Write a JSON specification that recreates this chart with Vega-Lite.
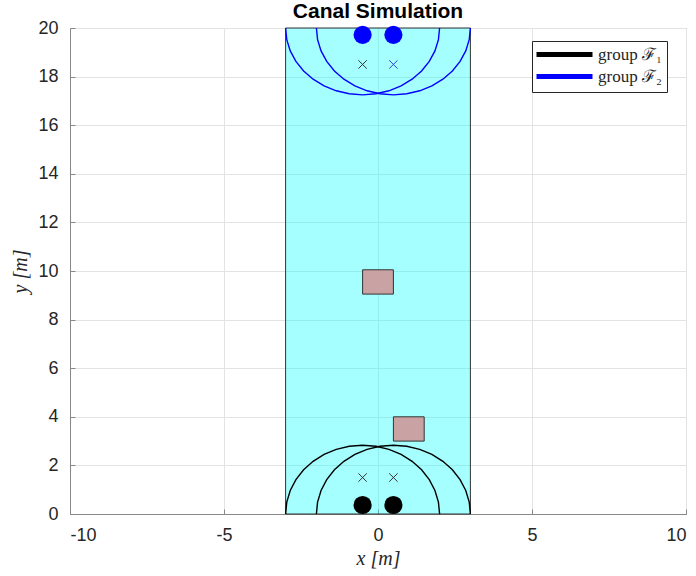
{
  "$schema": "https://vega.github.io/schema/vega-lite/v6.json",
  "width": 616,
  "height": 486,
  "autosize": "none",
  "padding": {"left": 70, "top": 28, "right": 10, "bottom": 62},
  "background": "white",
  "title": {"text": "Canal Simulation", "font": "Liberation Sans", "fontSize": 21, "fontWeight": "bold", "color": "#000000", "anchor": "middle", "offset": 4, "dy": 7},
  "config": {
    "view": {"stroke": "#888888", "strokeWidth": 1},
    "axis": {"labelFont": "Liberation Sans", "labelFontSize": 18, "labelColor": "#262626", "gridColor": "#e3e3e3", "domainColor": "#888888", "ticks": true, "tickSize": -5, "tickColor": "#888888", "titleFont": "Liberation Serif", "titleFontSize": 20, "titleFontStyle": "italic", "titleFontWeight": "normal", "titleColor": "#262626", "labelExpr": "replace(datum.label, '−', '-')"},
    "legend": {"orient": "none", "legendX": 462, "legendY": 13, "symbolType": "M-5.6,0L5.6,0", "symbolSize": 100, "symbolStrokeWidth": 5, "symbolOffset": 19, "labelOffset": 25, "rowPadding": 1, "labelFont": "Liberation Serif", "labelFontSize": 17, "labelColor": "#262626", "strokeColor": "#262626", "fillColor": "white", "padding": 5, "title": null}
  },
  "datasets": {
    "canal": [{"x1": -3, "x2": 3, "y1": 0, "y2": 20}],
    "boxes": [{"x1": -0.5, "x2": 0.5, "y1": 9.05, "y2": 10.05}, {"x1": 0.5, "x2": 1.5, "y1": 3.0, "y2": 4.0}],
    "ellipses": [
      {"g": "group ℱ₁", "e": "b1", "i": 0, "x": 2.0, "y": 0},
      {"g": "group ℱ₁", "e": "b1", "i": 1, "x": 1.962, "y": 0.491},
      {"g": "group ℱ₁", "e": "b1", "i": 2, "x": 1.849, "y": 0.968},
      {"g": "group ℱ₁", "e": "b1", "i": 3, "x": 1.665, "y": 1.415},
      {"g": "group ℱ₁", "e": "b1", "i": 4, "x": 1.415, "y": 1.819},
      {"g": "group ℱ₁", "e": "b1", "i": 5, "x": 1.107, "y": 2.168},
      {"g": "group ℱ₁", "e": "b1", "i": 6, "x": 0.75, "y": 2.451},
      {"g": "group ℱ₁", "e": "b1", "i": 7, "x": 0.355, "y": 2.659},
      {"g": "group ℱ₁", "e": "b1", "i": 8, "x": -0.066, "y": 2.787},
      {"g": "group ℱ₁", "e": "b1", "i": 9, "x": -0.5, "y": 2.83},
      {"g": "group ℱ₁", "e": "b1", "i": 10, "x": -0.934, "y": 2.787},
      {"g": "group ℱ₁", "e": "b1", "i": 11, "x": -1.355, "y": 2.659},
      {"g": "group ℱ₁", "e": "b1", "i": 12, "x": -1.75, "y": 2.451},
      {"g": "group ℱ₁", "e": "b1", "i": 13, "x": -2.107, "y": 2.168},
      {"g": "group ℱ₁", "e": "b1", "i": 14, "x": -2.415, "y": 1.819},
      {"g": "group ℱ₁", "e": "b1", "i": 15, "x": -2.665, "y": 1.415},
      {"g": "group ℱ₁", "e": "b1", "i": 16, "x": -2.849, "y": 0.968},
      {"g": "group ℱ₁", "e": "b1", "i": 17, "x": -2.962, "y": 0.491},
      {"g": "group ℱ₁", "e": "b1", "i": 18, "x": -3.0, "y": 0},
      {"g": "group ℱ₁", "e": "b2", "i": 0, "x": 3.0, "y": 0},
      {"g": "group ℱ₁", "e": "b2", "i": 1, "x": 2.962, "y": 0.491},
      {"g": "group ℱ₁", "e": "b2", "i": 2, "x": 2.849, "y": 0.968},
      {"g": "group ℱ₁", "e": "b2", "i": 3, "x": 2.665, "y": 1.415},
      {"g": "group ℱ₁", "e": "b2", "i": 4, "x": 2.415, "y": 1.819},
      {"g": "group ℱ₁", "e": "b2", "i": 5, "x": 2.107, "y": 2.168},
      {"g": "group ℱ₁", "e": "b2", "i": 6, "x": 1.75, "y": 2.451},
      {"g": "group ℱ₁", "e": "b2", "i": 7, "x": 1.355, "y": 2.659},
      {"g": "group ℱ₁", "e": "b2", "i": 8, "x": 0.934, "y": 2.787},
      {"g": "group ℱ₁", "e": "b2", "i": 9, "x": 0.5, "y": 2.83},
      {"g": "group ℱ₁", "e": "b2", "i": 10, "x": 0.066, "y": 2.787},
      {"g": "group ℱ₁", "e": "b2", "i": 11, "x": -0.355, "y": 2.659},
      {"g": "group ℱ₁", "e": "b2", "i": 12, "x": -0.75, "y": 2.451},
      {"g": "group ℱ₁", "e": "b2", "i": 13, "x": -1.107, "y": 2.168},
      {"g": "group ℱ₁", "e": "b2", "i": 14, "x": -1.415, "y": 1.819},
      {"g": "group ℱ₁", "e": "b2", "i": 15, "x": -1.665, "y": 1.415},
      {"g": "group ℱ₁", "e": "b2", "i": 16, "x": -1.849, "y": 0.968},
      {"g": "group ℱ₁", "e": "b2", "i": 17, "x": -1.962, "y": 0.491},
      {"g": "group ℱ₁", "e": "b2", "i": 18, "x": -2.0, "y": 0},
      {"g": "group ℱ₂", "e": "t1", "i": 0, "x": 2.0, "y": 20},
      {"g": "group ℱ₂", "e": "t1", "i": 1, "x": 1.962, "y": 19.522},
      {"g": "group ℱ₂", "e": "t1", "i": 2, "x": 1.849, "y": 19.059},
      {"g": "group ℱ₂", "e": "t1", "i": 3, "x": 1.665, "y": 18.625},
      {"g": "group ℱ₂", "e": "t1", "i": 4, "x": 1.415, "y": 18.232},
      {"g": "group ℱ₂", "e": "t1", "i": 5, "x": 1.107, "y": 17.893},
      {"g": "group ℱ₂", "e": "t1", "i": 6, "x": 0.75, "y": 17.618},
      {"g": "group ℱ₂", "e": "t1", "i": 7, "x": 0.355, "y": 17.416},
      {"g": "group ℱ₂", "e": "t1", "i": 8, "x": -0.066, "y": 17.292},
      {"g": "group ℱ₂", "e": "t1", "i": 9, "x": -0.5, "y": 17.25},
      {"g": "group ℱ₂", "e": "t1", "i": 10, "x": -0.934, "y": 17.292},
      {"g": "group ℱ₂", "e": "t1", "i": 11, "x": -1.355, "y": 17.416},
      {"g": "group ℱ₂", "e": "t1", "i": 12, "x": -1.75, "y": 17.618},
      {"g": "group ℱ₂", "e": "t1", "i": 13, "x": -2.107, "y": 17.893},
      {"g": "group ℱ₂", "e": "t1", "i": 14, "x": -2.415, "y": 18.232},
      {"g": "group ℱ₂", "e": "t1", "i": 15, "x": -2.665, "y": 18.625},
      {"g": "group ℱ₂", "e": "t1", "i": 16, "x": -2.849, "y": 19.059},
      {"g": "group ℱ₂", "e": "t1", "i": 17, "x": -2.962, "y": 19.522},
      {"g": "group ℱ₂", "e": "t1", "i": 18, "x": -3.0, "y": 20},
      {"g": "group ℱ₂", "e": "t2", "i": 0, "x": 3.0, "y": 20},
      {"g": "group ℱ₂", "e": "t2", "i": 1, "x": 2.962, "y": 19.522},
      {"g": "group ℱ₂", "e": "t2", "i": 2, "x": 2.849, "y": 19.059},
      {"g": "group ℱ₂", "e": "t2", "i": 3, "x": 2.665, "y": 18.625},
      {"g": "group ℱ₂", "e": "t2", "i": 4, "x": 2.415, "y": 18.232},
      {"g": "group ℱ₂", "e": "t2", "i": 5, "x": 2.107, "y": 17.893},
      {"g": "group ℱ₂", "e": "t2", "i": 6, "x": 1.75, "y": 17.618},
      {"g": "group ℱ₂", "e": "t2", "i": 7, "x": 1.355, "y": 17.416},
      {"g": "group ℱ₂", "e": "t2", "i": 8, "x": 0.934, "y": 17.292},
      {"g": "group ℱ₂", "e": "t2", "i": 9, "x": 0.5, "y": 17.25},
      {"g": "group ℱ₂", "e": "t2", "i": 10, "x": 0.066, "y": 17.292},
      {"g": "group ℱ₂", "e": "t2", "i": 11, "x": -0.355, "y": 17.416},
      {"g": "group ℱ₂", "e": "t2", "i": 12, "x": -0.75, "y": 17.618},
      {"g": "group ℱ₂", "e": "t2", "i": 13, "x": -1.107, "y": 17.893},
      {"g": "group ℱ₂", "e": "t2", "i": 14, "x": -1.415, "y": 18.232},
      {"g": "group ℱ₂", "e": "t2", "i": 15, "x": -1.665, "y": 18.625},
      {"g": "group ℱ₂", "e": "t2", "i": 16, "x": -1.849, "y": 19.059},
      {"g": "group ℱ₂", "e": "t2", "i": 17, "x": -1.962, "y": 19.522},
      {"g": "group ℱ₂", "e": "t2", "i": 18, "x": -2.0, "y": 20}
    ],
    "dots": [
      {"x": -0.5, "y": 0.37, "c": "black"},
      {"x": 0.5, "y": 0.37, "c": "black"},
      {"x": -0.5, "y": 19.72, "c": "blue"},
      {"x": 0.5, "y": 19.72, "c": "blue"}
    ],
    "crosses": [
      {"x": -0.5, "y": 1.5, "c": "k"},
      {"x": 0.5, "y": 1.5, "c": "k"},
      {"x": -0.5, "y": 18.5, "c": "k"},
      {"x": 0.5, "y": 18.5, "c": "b"}
    ]
  },
  "layer": [
    {
      "data": {"name": "canal"},
      "mark": {"type": "rect", "fill": "#00ffff", "fillOpacity": 0.35, "stroke": "#333333", "strokeWidth": 1},
      "encoding": {
        "x": {"field": "x1", "type": "quantitative", "scale": {"domain": [-10, 10], "nice": false}, "axis": {"values": [-10, -5, 0, 5, 10], "title": "x [m]", "labelPadding": 17, "titlePadding": 4}},
        "x2": {"field": "x2"},
        "y": {"field": "y1", "type": "quantitative", "scale": {"domain": [0, 20], "nice": false}, "axis": {"values": [0, 2, 4, 6, 8, 10, 12, 14, 16, 18, 20], "title": "y [m]", "labelPadding": 17, "titlePadding": 7}},
        "y2": {"field": "y2"}
      }
    },
    {
      "data": {"name": "boxes"},
      "mark": {"type": "rect", "fill": "#c9a3a3", "stroke": "#333333", "strokeWidth": 1},
      "encoding": {
        "x": {"field": "x1", "type": "quantitative"},
        "x2": {"field": "x2"},
        "y": {"field": "y1", "type": "quantitative"},
        "y2": {"field": "y2"}
      }
    },
    {
      "data": {"name": "ellipses"},
      "mark": {"type": "line", "strokeWidth": 1.4},
      "encoding": {
        "x": {"field": "x", "type": "quantitative"},
        "y": {"field": "y", "type": "quantitative"},
        "detail": {"field": "e"},
        "order": {"field": "i", "type": "quantitative"},
        "color": {"field": "g", "type": "nominal", "scale": {"domain": ["group ℱ₁", "group ℱ₂"], "range": ["#000000", "#0000ff"]}}
      }
    },
    {
      "data": {"name": "dots"},
      "mark": {"type": "circle", "size": 330, "opacity": 1},
      "encoding": {
        "x": {"field": "x", "type": "quantitative"},
        "y": {"field": "y", "type": "quantitative"},
        "fill": {"field": "c", "type": "nominal", "scale": {"domain": ["black", "blue"], "range": ["#000000", "#0000ff"]}, "legend": null}
      }
    },
    {
      "data": {"name": "crosses"},
      "mark": {"type": "point", "shape": "M-1,-1L1,1M-1,1L1,-1", "size": 70, "filled": false, "strokeWidth": 1, "opacity": 1},
      "encoding": {
        "x": {"field": "x", "type": "quantitative"},
        "y": {"field": "y", "type": "quantitative"},
        "stroke": {"field": "c", "type": "nominal", "scale": {"domain": ["k", "b"], "range": ["#333333", "#3344cc"]}, "legend": null}
      }
    }
  ]
}
